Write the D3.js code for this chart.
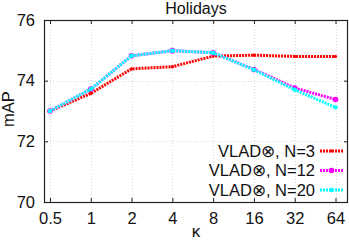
<!DOCTYPE html>
<html>
<head>
<meta charset="utf-8">
<script src="https://cdn.jsdelivr.net/npm/d3@7"></script>
<style>
  body { margin: 0; background: #fff; }
  svg { display: block; font-family: 'Liberation Sans', Arial, sans-serif; }
</style>
</head>
<body>
<script>
// data
const kappa = [0.5, 1, 2, 4, 8, 16, 32, 64]
const mapN3 = [73.0, 73.58, 74.39, 74.46, 74.81, 74.84, 74.8, 74.8]
const mapN12 = [73.0, 73.72, 74.82, 74.99, 74.92, 74.37, 73.76, 73.38]
const mapN20 = [73.0, 73.72, 74.82, 74.99, 74.92, 74.36, 73.7, 73.12]
const yTicks = [70, 72, 74, 76]
const seriesNames = ['VLAD⊗, N=3', 'VLAD⊗, N=12', 'VLAD⊗, N=20']

const W = 349, H = 240
const box = { left: 44, right: 348, top: 20, bottom: 202 }

const svg = d3.select('body').append('svg').attr('width', W).attr('height', H)

const x = d3.scaleLog().base(2).domain([0.5, 64]).range([50, 335.5])
const y = d3.scaleLinear().domain([70, 76]).range([box.bottom, box.top])

// grid
const grid = svg.append('g').attr('stroke', '#d8d8d8').attr('stroke-width', 1).attr('stroke-dasharray', '1,2')
grid.selectAll('.gx').data(kappa).join('line')
	.attr('x1', d => Math.round(x(d)) + 0.5).attr('x2', d => Math.round(x(d)) + 0.5)
	.attr('y1', box.top).attr('y2', box.bottom)
grid.selectAll('.gy').data(yTicks.slice(1, -1)).join('line')
	.attr('y1', d => Math.round(y(d)) + 0.5).attr('y2', d => Math.round(y(d)) + 0.5)
	.attr('x1', box.left).attr('x2', box.right)

// axes: ticks inward on all four sides
const xb = d3.axisBottom(x).tickValues(kappa).tickFormat(d => String(d)).tickSizeInner(-4).tickSizeOuter(0).tickPadding(10)
const xt = d3.axisTop(x).tickValues(kappa).tickFormat('').tickSizeInner(-4).tickSizeOuter(0)
const yl = d3.axisLeft(y).tickValues(yTicks).tickFormat(d3.format('d')).tickSizeInner(-4).tickSizeOuter(0).tickPadding(9)
const yr = d3.axisRight(y).tickValues(yTicks).tickFormat('').tickSizeInner(-4).tickSizeOuter(0)

function styleAxis(g) {
	g.select('.domain').remove()
	g.selectAll('line').attr('stroke', '#222')
	g.selectAll('text').attr('fill', '#111').style('font-size', '16.5px').style('font-family', "'Liberation Sans', Arial, sans-serif")
}
svg.append('g').attr('transform', `translate(0,${box.bottom})`).call(xb).call(styleAxis)
svg.append('g').attr('transform', `translate(0,${box.top})`).call(xt).call(styleAxis)
svg.append('g').attr('transform', `translate(${box.left},0)`).call(yl).call(styleAxis)
svg.append('g').attr('transform', `translate(${box.right},0)`).call(yr).call(styleAxis)

svg.append('rect')
	.attr('x', box.left + 0.5).attr('y', box.top + 0.5)
	.attr('width', box.right - box.left - 1).attr('height', box.bottom - box.top)
	.attr('fill', 'none').attr('stroke', '#222').attr('stroke-width', 1.2)

// series
const series = [
	{ name: seriesNames[0], values: mapN3, color: '#ff0000', r: 1.6 },
	{ name: seriesNames[1], values: mapN12, color: '#ff00ff', r: 2.8 },
	{ name: seriesNames[2], values: mapN20, color: '#00ffff', r: 2.2 }
]

const line = d3.line().x((d, i) => x(kappa[i])).y(d => y(d))

series.forEach(s => {
	svg.append('path')
		.attr('d', line(s.values))
		.attr('fill', 'none')
		.attr('stroke', s.color)
		.attr('stroke-width', 3)
		.attr('stroke-dasharray', '2,1')
	svg.append('g').selectAll('circle').data(s.values).join('circle')
		.attr('cx', (d, i) => x(kappa[i]))
		.attr('cy', d => y(d))
		.attr('r', s.r)
		.attr('fill', s.color)
})

// legend
const legendY = [151, 170.5, 190]
series.forEach((s, i) => {
	svg.append('text')
		.attr('x', 315).attr('y', legendY[i]).attr('dy', '0.36em')
		.attr('text-anchor', 'end').style('font-size', '16.5px').attr('fill', '#111')
		.text(s.name)
	svg.append('line')
		.attr('x1', 320).attr('x2', 343).attr('y1', legendY[i]).attr('y2', legendY[i])
		.attr('stroke', s.color).attr('stroke-width', 3).attr('stroke-dasharray', '2,1')
	svg.append('circle').attr('cx', 331.5).attr('cy', legendY[i]).attr('r', s.r).attr('fill', s.color)
})

// title and axis labels
svg.append('text').attr('x', 196).attr('y', 14).attr('text-anchor', 'middle')
	.style('font-size', '16px').attr('fill', '#111').text('Holidays')
svg.append('text').attr('x', 196).attr('y', 237).attr('text-anchor', 'middle')
	.style('font-size', '17px').attr('fill', '#111').text('κ')
svg.append('text').attr('transform', 'translate(14,109) rotate(-90)').attr('text-anchor', 'middle')
	.style('font-size', '16.5px').attr('fill', '#111').text('mAP')
</script>
</body>
</html>
